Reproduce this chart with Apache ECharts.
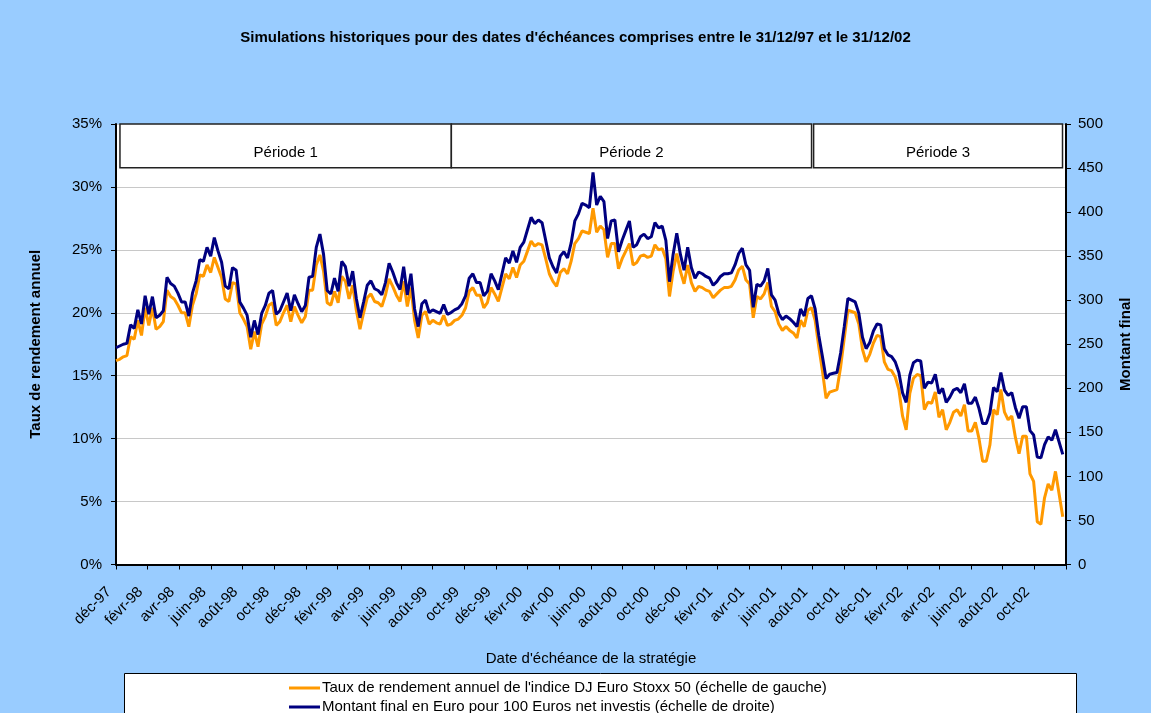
<!DOCTYPE html>
<html>
<head>
<meta charset="utf-8">
<script src="https://cdn.jsdelivr.net/npm/echarts@6/dist/echarts.min.js"></script>
<style>
html,body{margin:0;padding:0;background:#99CCFF;}
#chart{width:1151px;height:713px;}
</style>
</head>
<body>
<div id="chart"></div>
<script>
// x-axis tick labels (every 2 months, from 31/12/97 to 31/12/02)
const xLabels = ['déc-97','févr-98','avr-98','juin-98','août-98','oct-98','déc-98','févr-99','avr-99','juin-99','août-99','oct-99','déc-99','févr-00','avr-00','juin-00','août-00','oct-00','déc-00','févr-01','avr-01','juin-01','août-01','oct-01','déc-01','févr-02','avr-02','juin-02','août-02','oct-02',''];

// weekly observations starting 31/12/1997
const startDate = '1997-12-31';

// Taux de rendement annuel (%), left scale
const taux = [
16.2,16.3,16.5,16.6,18.1,17.9,19.4,18.2,20.4,19.0,
20.4,18.7,18.9,19.3,21.8,21.3,21.1,20.6,20.0,20.0,
18.9,20.6,21.5,23.0,22.9,23.8,23.2,24.4,23.6,22.8,
21.1,20.9,22.4,22.3,20.0,19.5,18.9,17.1,18.5,17.3,
19.1,19.7,20.6,20.8,19.0,19.3,20.0,20.6,19.3,20.5,
19.8,19.2,19.7,21.8,21.8,23.8,24.6,23.3,20.8,20.6,
21.7,20.8,22.9,22.5,21.1,22.2,20.2,18.7,20.0,21.2,
21.5,20.9,20.8,20.5,21.4,22.7,22.1,21.4,20.9,22.5,
20.5,22.0,19.4,18.0,19.8,20.1,19.1,19.4,19.2,19.1,
19.8,19.0,19.1,19.4,19.5,19.8,20.4,21.7,22.0,21.4,
21.4,20.4,20.8,22.0,21.5,20.9,22.0,23.1,22.7,23.6,
22.8,23.8,24.1,24.9,25.7,25.3,25.5,25.4,24.3,23.1,
22.5,22.1,23.2,23.5,23.1,24.1,25.5,25.9,26.5,26.4,
26.3,28.3,26.4,26.9,26.6,24.4,25.5,25.5,23.5,24.3,
24.9,25.5,23.8,24.0,24.5,24.6,24.4,24.5,25.4,25.0,
25.1,24.3,21.3,23.3,24.7,23.3,22.3,23.8,22.4,21.7,
22.1,22.0,21.8,21.7,21.2,21.5,21.8,22.0,22.0,22.1,
22.6,23.4,23.7,22.6,22.3,19.6,21.3,21.1,21.5,22.4,
20.5,20.1,19.1,18.6,18.9,18.6,18.4,18.0,19.4,18.9,
20.2,20.4,19.4,17.3,15.4,13.2,13.7,13.8,13.9,15.7,
18.0,20.2,20.1,20.0,19.1,17.1,16.1,16.7,17.6,18.2,
18.1,16.1,15.5,15.4,14.9,13.9,11.8,10.7,13.6,14.8,
15.1,15.0,12.3,12.9,12.8,13.7,11.7,12.3,10.7,11.3,
12.1,12.3,11.8,12.7,10.6,10.6,11.3,10.0,8.2,8.2,
9.5,12.3,11.9,13.9,12.1,11.5,11.8,10.1,8.8,10.2,
10.2,7.2,6.6,3.4,3.2,5.3,6.4,5.9,7.4,5.6,
3.8];

// Montant final en Euro pour 100 Euros, right scale
const montant = [
246,248,250,251,272,268,289,273,305,284,
304,280,283,288,326,319,316,308,298,298,
282,308,322,346,344,360,350,371,356,343,
316,313,337,334,298,291,283,258,277,261,
285,294,308,311,284,288,298,308,288,306,
296,287,294,326,327,360,375,352,311,307,
325,310,344,338,316,333,302,280,298,317,
322,313,311,306,320,342,332,320,312,338,
306,330,290,270,296,300,286,289,287,285,
295,284,286,289,291,296,305,325,330,320,
320,305,310,330,322,312,330,348,342,356,
343,360,366,380,394,387,391,388,368,348,
338,331,350,355,348,365,390,398,410,408,
405,445,408,418,412,370,390,391,355,368,
379,390,360,363,372,375,370,372,388,382,
384,368,321,352,376,352,334,360,337,325,
332,330,327,325,317,321,327,330,330,331,
340,353,359,340,334,292,318,316,322,336,
306,300,285,278,282,279,275,270,290,282,
302,305,290,260,236,211,216,217,218,240,
270,302,300,298,285,258,245,252,265,273,
272,245,238,236,230,218,195,184,215,229,
232,231,200,207,206,216,194,200,184,190,
198,200,195,205,183,183,190,177,160,160,
172,201,196,218,198,192,195,178,166,179,
179,152,147,122,121,136,145,141,153,139,
125];

// periods, in months elapsed since 31/12/97
const periods = [
  {name:'Période 1', from:0.25, to:21.18},
  {name:'Période 2', from:21.18, to:43.93},
  {name:'Période 3', from:44.06, to:59.78}
];

const seriesNames = [
  "Taux de rendement annuel de l'indice DJ Euro Stoxx 50 (échelle de gauche)",
  "Montant final en Euro pour 100 Euros net investis (échelle de droite)"
];

// convert week index to months elapsed since start date
const weekToMonth = i => i * 7 * 12 / 365.25;
const tauxData = taux.map((v, i) => [weekToMonth(i), v]);
const montantData = montant.map((v, i) => [weekToMonth(i), v]);

const FONT = "'Liberation Sans', Arial, sans-serif";
const chart = echarts.init(document.getElementById('chart'), null, {renderer:'canvas'});

const legendBase = {
  orient: 'horizontal', left: 284, z: 10,
  itemWidth: 31, itemHeight: 3, itemGap: 2, icon: 'rect',
  textStyle: {fontFamily: FONT, fontSize: 15, color: '#000', padding: [0,0,0,-3]}
};

chart.setOption({
  animation: false,
  backgroundColor: '#99CCFF',
  textStyle: {fontFamily: FONT},
  title: {
    text: "Simulations historiques pour des dates d'échéances comprises entre le 31/12/97 et le 31/12/02",
    left: 'center', top: 25,
    textStyle: {fontFamily: FONT, fontSize: 15, fontWeight: 'bold', color: '#000'}
  },
  graphic: [{
    type: 'rect', left: 124, top: 673, z: 0,
    shape: {width: 952, height: 60},
    style: {fill: '#fff', stroke: '#000', lineWidth: 1}
  }],
  legend: [
    Object.assign({}, legendBase, {top: 675.5, data: [seriesNames[0]]}),
    Object.assign({}, legendBase, {top: 694.5, data: [seriesNames[1]]})
  ],
  grid: {
    left: 116, right: 85, top: 124, bottom: 148.5,
    show: true, backgroundColor: '#fff', borderWidth: 0
  },
  xAxis: {
    type: 'value', min: 0, max: 60, interval: 2,
    name: "Date d'échéance de la stratégie",
    nameLocation: 'middle', nameGap: 87,
    nameTextStyle: {fontFamily: FONT, fontSize: 15, color: '#000'},
    axisLine: {show: true, lineStyle: {color: '#000', width: 2}},
    axisTick: {show: true, length: 5, lineStyle: {color: '#000'}},
    splitLine: {show: false},
    axisLabel: {
      rotate: 45, margin: 18, padding: [0, 10, 0, 0],
      fontFamily: FONT, fontSize: 15, color: '#000',
      formatter: v => xLabels[Math.round(v / 2)] || ''
    }
  },
  yAxis: [{
    type: 'value', min: 0, max: 35, interval: 5,
    name: 'Taux de rendement annuel', nameLocation: 'middle', nameGap: 73, nameRotate: 90,
    nameTextStyle: {fontFamily: FONT, fontSize: 15, fontWeight: 'bold', color: '#000'},
    axisLine: {show: true, lineStyle: {color: '#000', width: 2}},
    axisTick: {show: true, length: 5, lineStyle: {color: '#000'}},
    splitLine: {show: true, lineStyle: {color: '#C8C8C8', width: 1}},
    axisLabel: {margin: 14, fontFamily: FONT, fontSize: 15, color: '#000', formatter: v => v + '%'}
  }, {
    type: 'value', min: 0, max: 500, interval: 50, position: 'right',
    name: 'Montant final', nameLocation: 'middle', nameGap: 52, nameRotate: 90,
    nameTextStyle: {fontFamily: FONT, fontSize: 15, fontWeight: 'bold', color: '#000'},
    axisLine: {show: true, lineStyle: {color: '#000', width: 2}},
    axisTick: {show: true, length: 5, lineStyle: {color: '#000'}},
    splitLine: {show: false},
    axisLabel: {margin: 12, fontFamily: FONT, fontSize: 15, color: '#000'}
  }],
  series: [{
    name: seriesNames[0], type: 'line', yAxisIndex: 0,
    data: tauxData, showSymbol: false, symbol: 'none',
    lineStyle: {color: '#FF9900', width: 3}, itemStyle: {color: '#FF9900'},
    z: 3,
    markArea: {
      silent: true,
      itemStyle: {color: '#fff', borderColor: '#222', borderWidth: 1.5},
      label: {show: true, position: 'inside', offset: [0, 7], fontFamily: FONT, fontSize: 15, color: '#000'},
      data: periods.map(p => [{name: p.name, xAxis: p.from, yAxis: 35}, {xAxis: p.to, yAxis: 31.53}])
    }
  }, {
    name: seriesNames[1], type: 'line', yAxisIndex: 1,
    data: montantData, showSymbol: false, symbol: 'none',
    lineStyle: {color: '#000080', width: 3}, itemStyle: {color: '#000080'},
    z: 4
  }]
});
</script>
</body>
</html>
